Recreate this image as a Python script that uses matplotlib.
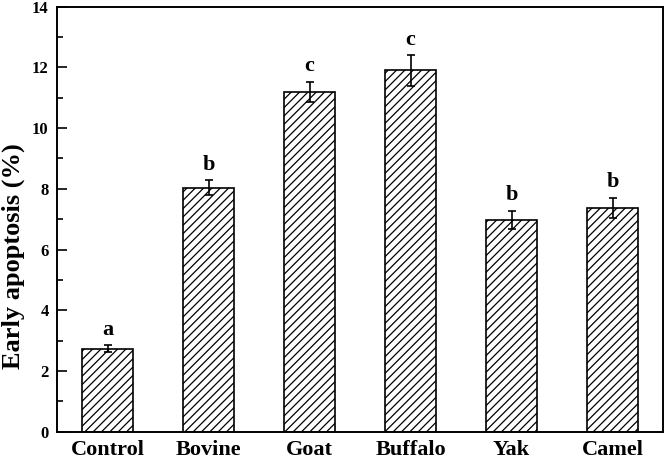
import numpy as np
import matplotlib.pyplot as plt
from matplotlib.ticker import MultipleLocator

# values
groups = ['Control', 'Bovine', 'Goat', 'Buffalo', 'Yak', 'Camel']
means = [2.73, 8.03, 11.2, 11.9, 6.97, 7.38]
errors = [0.11, 0.25, 0.33, 0.5, 0.3, 0.33]
letters = ['a', 'b', 'c', 'c', 'b', 'b']

plt.rcParams['font.family'] = ['Liberation Serif', 'DejaVu Serif']
plt.rcParams['font.weight'] = 'bold'
plt.rcParams['hatch.linewidth'] = 0.9

fig = plt.figure(figsize=(6.66, 4.59), dpi=100)
ax = fig.add_axes([0.0856, 0.0595, 0.91, 0.926])

x = np.arange(len(groups))
ax.bar(x, means, width=0.5, color='white', edgecolor='black', linewidth=1.2,
       hatch='////', zorder=2)
ax.errorbar(x, means, yerr=errors, fmt='none', ecolor='black', elinewidth=1.2,
            capsize=3, capthick=1.2, zorder=3)

for xi, m, e, lab in zip(x, means, errors, letters):
    ax.annotate(lab, (xi, m + e), xytext=(0, 4), textcoords='offset points',
                ha='center', va='bottom', fontsize=16, fontweight='bold')

ax.set_xlim(-0.5, 5.5)
ax.set_ylim(0, 14)
ax.yaxis.set_major_locator(MultipleLocator(2))
ax.yaxis.set_minor_locator(MultipleLocator(1))
ax.set_xticks(x)
ax.set_xticklabels(groups, fontsize=16, fontweight='bold')
ax.tick_params(axis='x', length=0, pad=6)
ax.tick_params(axis='y', which='major', direction='in', length=7, width=1.2,
               labelsize=12, pad=6)
ax.tick_params(axis='y', which='minor', direction='in', length=4, width=1.2)
for lbl in ax.get_yticklabels():
    lbl.set_fontweight('bold')
ax.set_ylabel('Early apoptosis (%)', fontsize=19, fontweight='bold', va='center')
ax.yaxis.set_label_coords(-0.072, 0.413)
for s in ax.spines.values():
    s.set_linewidth(1.4)

plt.savefig('out.png', dpi=100)
plt.close()
